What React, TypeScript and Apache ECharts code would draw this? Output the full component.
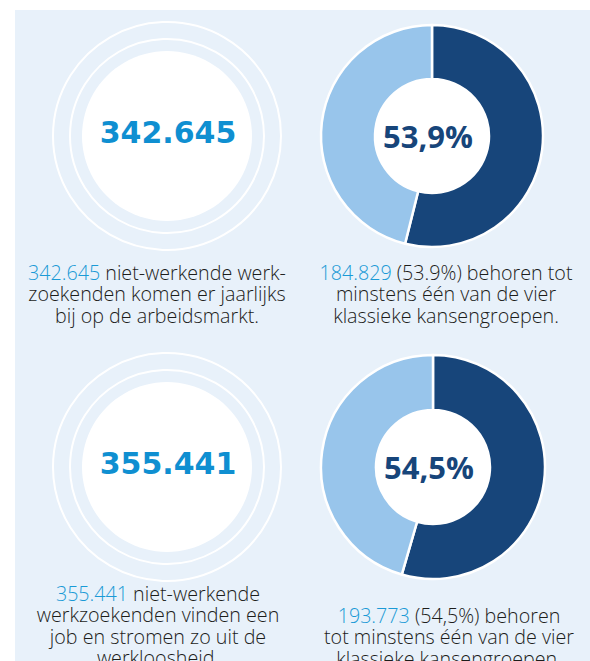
import React, { useEffect, useRef } from "react";
import * as echarts from "echarts";

// ---- data ----
const totals = ["342.645", "355.441"];
const groupCounts = ["184.829", "193.773"];
const groupShares = [53.9, 54.5];
const pctLabels = ["53,9%", "54,5%"];
const sliceNames = ["kansengroep", "overige"];
const leftCaptions = [
  [[totals[0], " niet-werkende werk-"], ["", "zoekenden komen er jaarlijks"], ["", "bij op de arbeidsmarkt."]],
  [[totals[1], " niet-werkende"], ["", "werkzoekenden vinden een"], ["", "job en stromen zo uit de"], ["", "werkloosheid."]],
];
const rightCaptions = [
  [[groupCounts[0], " (53.9%) behoren tot"], ["", "minstens één van de vier"], ["", "klassieke kansengroepen."]],
  [[groupCounts[1], " (54,5%) behoren"], ["", "tot minstens één van de vier"], ["", "klassieke kansengroepen."]],
];

const BG = "#e8f1fa";
const DARK = "#17457a";
const LIGHT = "#98c5eb";
const BLUE = "#0f8fd1";
const CAPBLUE = "#1a9ad6";
const TXT = "#1d1d1b";
const CAPFONT = "'Open Sans', sans-serif";

export default function App() {
  const ref = useRef<HTMLDivElement>(null);
  useEffect(() => {
    const chart = echarts.init(ref.current!, null, { renderer: "svg" });
    const rows = [
      { cy: 136, leftCapY: 272, rightCapY: 272, leftCapX: 157, rightCapX: 446, dcx: 432, dr: 111 },
      { cy: 467, leftCapY: 593, rightCapY: 615, leftCapX: 158, rightCapX: 449, dcx: 433, dr: 112 },
    ];
    const graphics: any[] = [
      { type: "rect", shape: { x: 15, y: 10, width: 575, height: 651 }, style: { fill: BG }, silent: true },
    ];
    const LH = 21.5;
    const capStyle = { fontSize: 19.7, fontWeight: 300, fontFamily: CAPFONT, lineHeight: LH };
    const caption = (x: number, y: number, lines: string[][]) => ({
      type: "text",
      x,
      y: y - LH / 2,
      style: {
        text: lines.map((p) => (p[0] ? `{b|${p[0]}}` : "") + `{t|${p[1]}}`).join("\n"),
        align: "center",
        verticalAlign: "top",
        rich: {
          b: { fill: CAPBLUE, ...capStyle },
          t: { fill: TXT, ...capStyle },
        },
      },
    });
    rows.forEach((r, i) => {
      graphics.push(
        { type: "circle", shape: { cx: 167, cy: r.cy, r: 114 }, style: { fill: "none", stroke: "#fff", lineWidth: 2 } },
        { type: "circle", shape: { cx: 167, cy: r.cy, r: 97 }, style: { fill: "none", stroke: "#fff", lineWidth: 2 } },
        { type: "circle", shape: { cx: 167, cy: r.cy, r: 85 }, style: { fill: "#fff" } },
        {
          type: "text",
          x: 168,
          y: r.cy - 4,
          style: {
            text: totals[i],
            fill: BLUE,
            font: "bold 30px 'DejaVu Sans', sans-serif",
            align: "center",
            verticalAlign: "middle",
          },
        },
        { type: "circle", shape: { cx: r.dcx, cy: r.cy, r: 58 }, style: { fill: "#fff" } },
        {
          type: "text",
          x: r.dcx - 4,
          y: r.cy,
          z: 10,
          style: {
            text: pctLabels[i],
            fill: DARK,
            font: "bold 31px 'Open Sans', sans-serif",
            align: "center",
            verticalAlign: "middle",
          },
        },
        caption(r.leftCapX, r.leftCapY, leftCaptions[i]),
        caption(r.rightCapX, r.rightCapY, rightCaptions[i])
      );
    });

    const series = rows.map((r, i) => ({
      type: "pie",
      center: [r.dcx, r.cy],
      radius: [57, r.dr],
      startAngle: 90,
      clockwise: true,
      silent: true,
      label: { show: false },
      labelLine: { show: false },
      itemStyle: { borderColor: "#fff", borderWidth: 2.5 },
      data: [
        { name: sliceNames[0], value: groupShares[i], itemStyle: { color: DARK } },
        { name: sliceNames[1], value: +(100 - groupShares[i]).toFixed(1), itemStyle: { color: LIGHT } },
      ],
    }));

    chart.setOption({
      animation: false,
      backgroundColor: "#fff",
      graphic: { elements: graphics },
      series,
    });
    return () => chart.dispose();
  }, []);
  return <div ref={ref} style={{ position: "absolute", left: 0, top: 0, width: 590, height: 661 }} />;
}
